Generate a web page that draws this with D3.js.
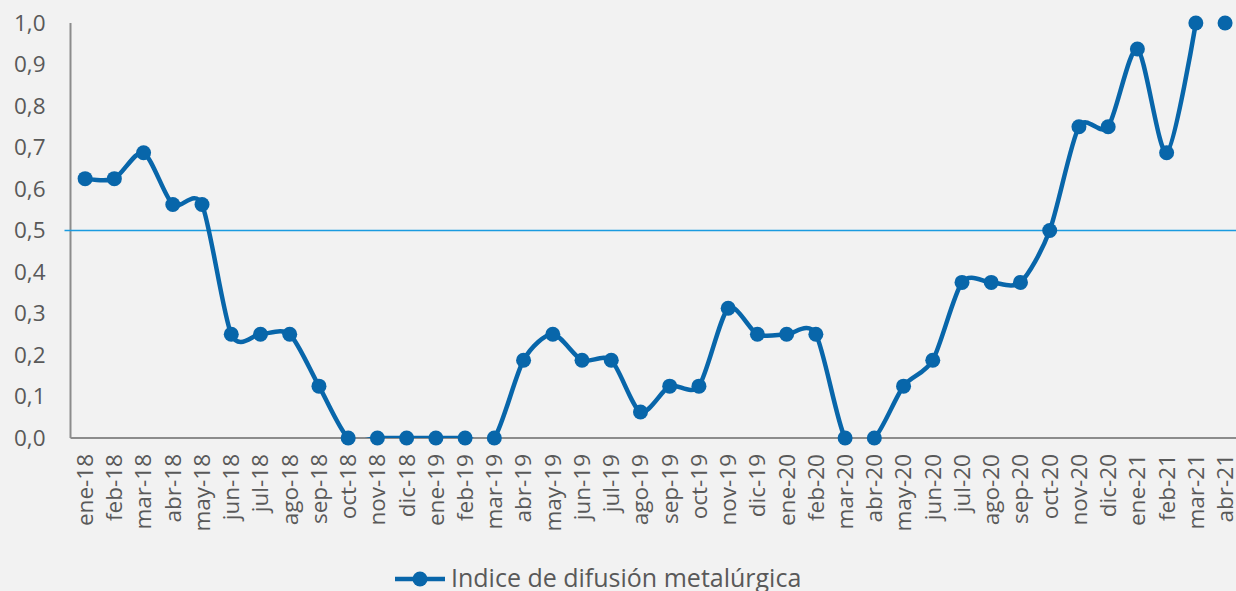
<!DOCTYPE html>
<html>
<head>
<meta charset="utf-8">
<script src="https://cdn.jsdelivr.net/npm/d3@7"></script>
<style>
    body { margin: 0; background: #f2f2f2; }
    svg { display: block; background: #f2f2f2; }
    svg text { font-family: "Open Sans", sans-serif; }
    .axis path, .axis line { stroke: #8c8c8c; stroke-width: 2; }
    .axis text { fill: #595959; font-size: 22.5px; }
</style>
</head>
<body>
<svg width="1236" height="591"></svg>
<script>
// Data
let months = ["ene-18", "feb-18", "mar-18", "abr-18", "may-18", "jun-18", "jul-18", "ago-18", "sep-18", "oct-18",
    "nov-18", "dic-18", "ene-19", "feb-19", "mar-19", "abr-19", "may-19", "jun-19", "jul-19", "ago-19",
    "sep-19", "oct-19", "nov-19", "dic-19", "ene-20", "feb-20", "mar-20", "abr-20", "may-20", "jun-20",
    "jul-20", "ago-20", "sep-20", "oct-20", "nov-20", "dic-20", "ene-21", "feb-21", "mar-21", "abr-21"];

let values = [0.625, 0.625, 0.6875, 0.5625, 0.5625, 0.25, 0.25, 0.25, 0.125, 0,
    0, 0, 0, 0, 0, 0.1875, 0.25, 0.1875, 0.1875, 0.0625,
    0.125, 0.125, 0.3125, 0.25, 0.25, 0.25, 0, 0, 0.125, 0.1875,
    0.375, 0.375, 0.375, 0.5, 0.75, 0.75, 0.9375, 0.6875, 1, 1];

let yTicks = [0, 0.1, 0.2, 0.3, 0.4, 0.5, 0.6, 0.7, 0.8, 0.9, 1];
let threshold = 0.5;
let seriesName = "Indice de difusión metalúrgica";

// the last point is not joined to the line in the original
let connectedCount = 39;

// Set up variables
let svg = d3.select("svg");
let width = 1236;
let plotLeft = 70.5;
let plotTop = 23;
let plotBottom = 438;
let step = 29.23;
let blue = "#0866aa";

let data = months.map(function(m, i) { return {month: m, value: values[i]}; });

// Scales
let xScale = d3.scaleBand()
    .domain(months)
    .range([plotLeft, plotLeft + step * months.length]);

let yScale = d3.scaleLinear()
    .domain([0, 1])
    .range([plotBottom, plotTop]);

function cx(d) { return xScale(d.month) + xScale.bandwidth() / 2; }

// Clip the smoothed line to the plot area (dips below zero get cut off)
svg.append("clipPath")
    .attr("id", "plot-clip")
    .append("rect")
    .attr("x", plotLeft)
    .attr("y", 0)
    .attr("width", width - plotLeft)
    .attr("height", plotBottom);

// Axes
let yAxis = svg.append("g")
    .attr("class", "axis")
    .attr("transform", "translate(" + plotLeft + ",0)")
    .call(d3.axisLeft(yScale)
        .tickValues(yTicks)
        .tickSize(0)
        .tickPadding(25)
        .tickFormat(function(d) { return d.toFixed(1).replace(".", ","); }));

yAxis.select(".domain").attr("d", "M0," + plotTop + "V" + plotBottom);

let xAxis = svg.append("g")
    .attr("class", "axis")
    .attr("transform", "translate(0," + plotBottom + ")")
    .call(d3.axisBottom(xScale).tickSize(0));

xAxis.select(".domain").attr("d", "M" + plotLeft + ",0H" + width);

xAxis.selectAll("text")
    .attr("transform", "rotate(-90)")
    .attr("text-anchor", "end")
    .attr("x", -16)
    .attr("y", 0)
    .attr("dy", "0.35em");

// Threshold line
svg.append("line")
    .attr("x1", plotLeft - 6)
    .attr("x2", width)
    .attr("y1", yScale(threshold))
    .attr("y2", yScale(threshold))
    .attr("stroke", "#1a9be0")
    .attr("stroke-width", 1.5);

// Series line
let line = d3.line()
    .x(cx)
    .y(function(d) { return yScale(d.value); })
    .curve(d3.curveCardinal.tension(0.2));

svg.append("path")
    .datum(data.slice(0, connectedCount))
    .attr("d", line)
    .attr("clip-path", "url(#plot-clip)")
    .attr("fill", "none")
    .attr("stroke", blue)
    .attr("stroke-width", 4.5);

svg.selectAll("circle.dot")
    .data(data)
    .enter().append("circle")
    .attr("class", "dot")
    .attr("cx", cx)
    .attr("cy", function(d) { return yScale(d.value); })
    .attr("r", 7.5)
    .attr("fill", blue);

// Legend
let legend = svg.append("g")
    .attr("transform", "translate(395,579)");

legend.append("line")
    .attr("x1", 0)
    .attr("x2", 50)
    .attr("stroke", blue)
    .attr("stroke-width", 4.5);

legend.append("circle")
    .attr("cx", 25)
    .attr("r", 7.5)
    .attr("fill", blue);

legend.append("text")
    .attr("x", 56)
    .attr("y", 8)
    .attr("fill", "#595959")
    .style("font-size", "25px")
    .text(seriesName);
</script>
</body>
</html>
